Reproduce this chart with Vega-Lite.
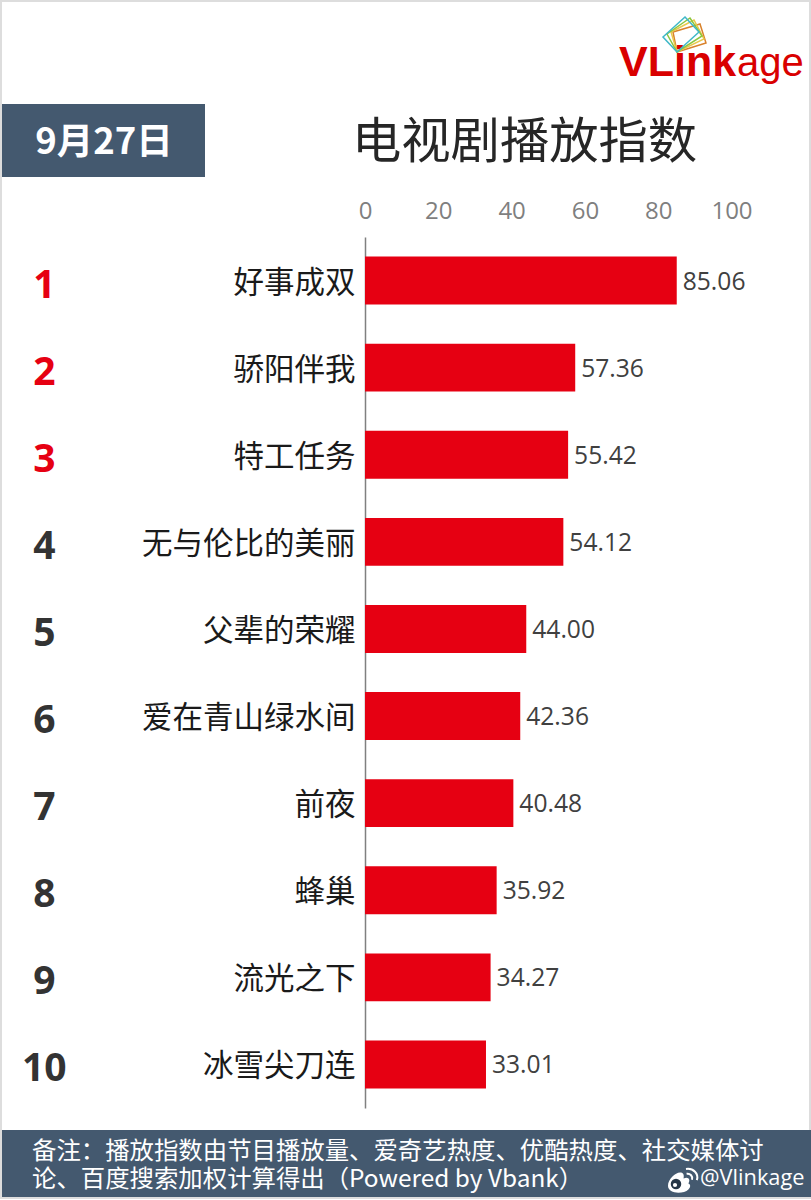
{
  "$schema": "https://vega.github.io/schema/vega-lite/v6.json",
  "description": "电视剧播放指数 9月27日",
  "autosize": {"type": "none"},
  "padding": {"left": 365, "top": 237, "right": 79.5, "bottom": 92},
  "width": 366.5,
  "height": 871,
  "background": "#ffffff",
  "datasets": {
    "shows": [
      {"rank": 1, "name": "好事成双", "index": 85.06},
      {"rank": 2, "name": "骄阳伴我", "index": 57.36},
      {"rank": 3, "name": "特工任务", "index": 55.42},
      {"rank": 4, "name": "无与伦比的美丽", "index": 54.12},
      {"rank": 5, "name": "父辈的荣耀", "index": 44.0},
      {"rank": 6, "name": "爱在青山绿水间", "index": 42.36},
      {"rank": 7, "name": "前夜", "index": 40.48},
      {"rank": 8, "name": "蜂巢", "index": 35.92},
      {"rank": 9, "name": "流光之下", "index": 34.27},
      {"rank": 10, "name": "冰雪尖刀连", "index": 33.01}
    ]
  },
  "data": {"name": "shows"},
  "layer": [
    {
      "mark": {"type": "rect", "x": -364, "x2": 445, "y": -236, "y2": 961, "fill": "transparent", "stroke": "#dddddd", "strokeWidth": 2},
      "encoding": {}
    },
    {
      "mark": {"type": "rect", "x": -363, "x2": -160, "y": -133, "y2": -60, "fill": "#44596f"},
      "encoding": {}
    },
    {
      "mark": {"type": "rect", "x": -363, "x2": 446, "y": 893, "y2": 960, "fill": "#44596f"},
      "encoding": {}
    },
    {
      "encoding": {
        "y": {
          "field": "name",
          "type": "nominal",
          "sort": null,
          "scale": {"paddingInner": 0.45, "paddingOuter": 0.225},
          "axis": {
            "title": null,
            "ticks": false,
            "grid": false,
            "domainColor": "#808080",
            "domainWidth": 1.5,
            "labelPadding": 10,
            "labelOffset": 3,
            "labelFont": "Noto Sans CJK SC",
            "labelFontSize": 30.5,
            "labelColor": "#1a1a1a",
            "labelLimit": 300
          }
        }
      },
      "layer": [
        {
          "mark": {"type": "bar", "color": "#e60012"},
          "encoding": {
            "x": {
              "field": "index",
              "type": "quantitative",
              "scale": {"domain": [0, 100], "nice": false},
              "axis": {
                "orient": "top",
                "title": null,
                "values": [0, 20, 40, 60, 80, 100],
                "domain": false,
                "ticks": false,
                "grid": false,
                "labelFlush": false,
                "labelPadding": 14,
                "labelFont": "Open Sans",
                "labelFontSize": 24,
                "labelColor": "#7f7f7f"
              }
            }
          }
        },
        {
          "mark": {"type": "text", "align": "left", "dx": 6, "dy": 2, "font": "Open Sans", "fontSize": 24.6, "color": "#404040"},
          "encoding": {
            "x": {"field": "index", "type": "quantitative"},
            "text": {"field": "index", "type": "quantitative", "format": ".2f"}
          }
        },
        {
          "mark": {"type": "text", "align": "center", "dy": 5, "font": "Open Sans", "fontSize": 39, "fontWeight": "bold", "clip": false},
          "encoding": {
            "x": {"datum": -87.5},
            "text": {"field": "rank", "type": "ordinal"},
            "color": {
              "condition": {"test": "datum.rank <= 3", "value": "#e60012"},
              "value": "#333333"
            }
          }
        }
      ]
    },
    {
      "data": {"values": [{"label": "9月27日"}]},
      "mark": {"type": "text", "x": -261, "y": -94, "align": "center", "baseline": "middle", "font": "Noto Sans CJK SC", "fontWeight": "bold", "fontSize": 36.5, "color": "#ffffff"},
      "encoding": {"text": {"field": "label"}}
    },
    {
      "data": {"values": [{"label": "电视剧播放指数"}]},
      "mark": {"type": "text", "x": -13, "y": -94, "align": "left", "baseline": "middle", "font": "Noto Sans CJK SC", "fontSize": 49.3, "color": "#262626"},
      "encoding": {"text": {"field": "label"}}
    },
    {
      "data": {"values": [{"label": "VLink"}]},
      "mark": {"type": "text", "x": 254, "y": -161, "align": "left", "baseline": "alphabetic", "font": "Liberation Sans", "fontWeight": "bold", "fontSize": 43, "color": "#d90000"},
      "encoding": {"text": {"field": "label"}}
    },
    {
      "data": {"values": [{"label": "age"}]},
      "mark": {"type": "text", "x": 372, "y": -161, "align": "left", "baseline": "alphabetic", "font": "Liberation Sans", "fontSize": 40, "color": "#d90000"},
      "encoding": {"text": {"field": "label"}}
    },
    {
      "data": {"values": [
        {"part": "orange", "path": "M-.4,-.1L.95,-.5L1.25,.45L-.2,.9Z"},
        {"part": "yellow", "path": "M-.5,-.1L.65,-.7L1.15,.25L-.2,.9Z"},
        {"part": "green", "path": "M-.7,0L.45,-.8L1.05,.1L-.2,.9Z"},
        {"part": "teal", "path": "M.2,-.85L.9,-.1L-.2,.9L-.9,.15Z"}
      ]},
      "mark": {"type": "point", "x": 316, "y": -203, "size": 1600, "filled": false, "strokeWidth": 1.5, "opacity": 1},
      "encoding": {
        "shape": {"field": "path", "type": "nominal", "scale": null},
        "stroke": {
          "field": "part",
          "type": "nominal",
          "legend": null,
          "scale": {"domain": ["orange", "yellow", "green", "teal"], "range": ["#d9822b", "#e8c84a", "#8cc63f", "#3fb8c8"]}
        }
      }
    },
    {
      "data": {"values": [{"label": "备注：播放指数由节目播放量、爱奇艺热度、优酷热度、社交媒体讨"}]},
      "mark": {"type": "text", "x": -333, "y": 915, "align": "left", "baseline": "middle", "font": "Noto Sans CJK SC", "fontSize": 24.4, "color": "#ffffff"},
      "encoding": {"text": {"field": "label"}}
    },
    {
      "data": {"values": [{"label": "论、百度搜索加权计算得出（Powered by Vbank）"}]},
      "mark": {"type": "text", "x": -333, "y": 943, "align": "left", "baseline": "middle", "font": "Noto Sans CJK SC", "fontSize": 24.4, "color": "#ffffff"},
      "encoding": {"text": {"field": "label"}}
    },
    {
      "data": {"values": [{"label": "@Vlinkage"}]},
      "mark": {"type": "text", "x": 335, "y": 941, "align": "left", "baseline": "middle", "font": "Open Sans", "fontSize": 21.8, "color": "#ffffff"},
      "encoding": {"text": {"field": "label"}}
    },
    {
      "data": {"values": [{"part": "weibo"}]},
      "mark": {"type": "point", "x": 315, "y": 944, "size": 576, "filled": true, "color": "#ffffff", "opacity": 1, "shape": "M-1,.4C-1,-.2 -.3,-.8 .1,-.7C.4,-.6 .3,-.3 .3,-.2C.7,-.4 .9,-.1 .7,.2C.9,.3 .9,.5 .7,.7C.3,1.1 -1,1.1 -1,.4Z"},
      "encoding": {}
    },
    {
      "data": {"values": [{"part": "weibo waves"}]},
      "mark": {"type": "point", "x": 315, "y": 944, "size": 576, "filled": false, "color": "#ffffff", "strokeWidth": 2, "opacity": 1, "shape": "M.5,-1C1.1,-1.1 1.6,-.6 1.4,-.08M.55,-.6C.85,-.65 1.1,-.4 1,-.1"},
      "encoding": {}
    },
    {
      "data": {"values": [{"part": "weibo eye"}]},
      "mark": {"type": "point", "x": 311, "y": 947, "size": 110, "filled": true, "color": "#263646", "opacity": 1},
      "encoding": {}
    },
    {
      "data": {"values": [{"part": "weibo pupil"}]},
      "mark": {"type": "point", "x": 310, "y": 948, "size": 18, "filled": true, "color": "#ffffff", "opacity": 1},
      "encoding": {}
    }
  ],
  "config": {"view": {"stroke": null}}
}
